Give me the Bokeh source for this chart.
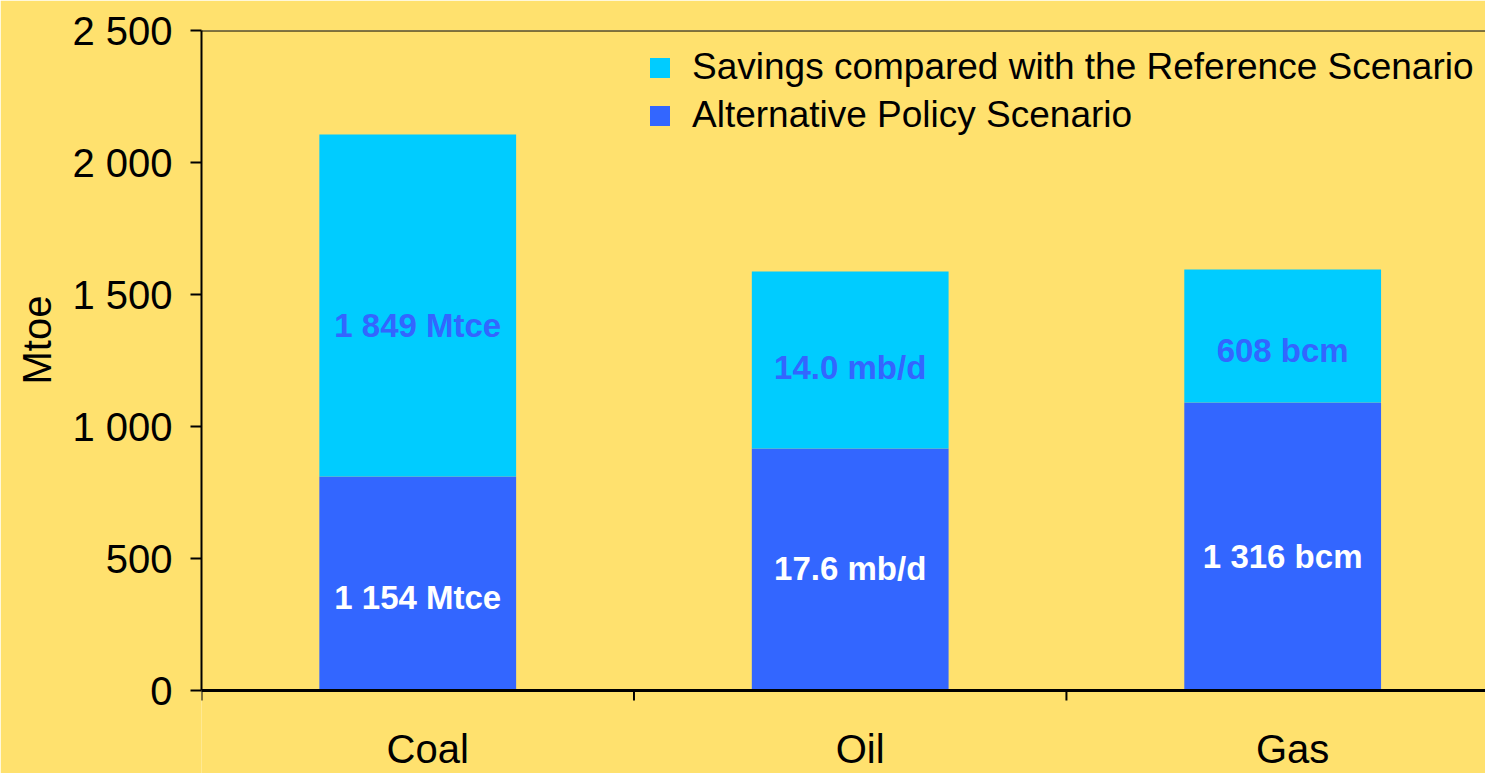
import math
from bokeh.plotting import figure
from bokeh.models import (FixedTicker, Legend, LegendItem, Span, Range1d,
                          ColumnDataSource, Title)
from bokeh.core.properties import value
from bokeh.embed import file_html
from bokeh.resources import INLINE

# Demand by fuel in 2030, Mtoe
fuels = ["Coal", "Oil", "Gas"]
alt_policy = [811, 917, 1091]          # Alternative Policy Scenario
savings = [1295, 670, 504]             # savings vs. Reference Scenario
alt_labels = ["1 154 Mtce", "17.6 mb/d", "1 316 bcm"]
sav_labels = ["1 849 Mtce", "14.0 mb/d", "608 bcm"]
y_ticks = [0, 500, 1000, 1500, 2000, 2500]
y_tick_labels = ["0", "500", "1 000", "1 500", "2 000", "2 500"]

# Where the labels sit inside each segment (data units)
alt_label_y = [352, 462, 508]
sav_label_y = [1383, 1222, 1286]

BG = "#FFE16E"
CYAN = "#00CCFF"
BLUE = "#3366FF"
FONT = "Liberation Sans"

Y_MAX = 2500
TOP, BOTTOM, HEIGHT = 30, 690, 773          # frame top, zero line, canvas height
px_per_unit = (BOTTOM - TOP) / Y_MAX
y_start = -(HEIGHT - BOTTOM) / px_per_unit    # room under the zero line for names

xs = [i + 0.5 for i in range(len(fuels))]
bounds = list(range(len(fuels) + 1))
tops = [a + s for a, s in zip(alt_policy, savings)]

src = ColumnDataSource(dict(x=xs, fuel=fuels, alt=alt_policy, top=tops,
                            alt_lab=alt_labels, sav_lab=sav_labels,
                            alt_ly=alt_label_y, sav_ly=sav_label_y))

p = figure(width=1485, height=HEIGHT, output_backend="svg", toolbar_location=None,
           x_range=Range1d(0, 2.969), y_range=Range1d(y_start, Y_MAX),
           min_border_left=201, min_border_right=0, min_border_top=TOP,
           min_border_bottom=0)
p.background_fill_color = BG
p.border_fill_color = BG
p.outline_line_color = None
p.grid.visible = False
p.xaxis.visible = False

alt_r = p.vbar(x="x", width=0.455, bottom=0, top="alt", source=src,
               fill_color=BLUE, line_color=None)
sav_r = p.vbar(x="x", width=0.455, bottom="alt", top="top", source=src,
               fill_color=CYAN, line_color=None)

p.text(x="x", y="alt_ly", text="alt_lab", source=src, text_color="white",
       text_font=value(FONT), text_font_style="bold", text_font_size="33px",
       text_align="center", text_baseline="middle")
p.text(x="x", y="sav_ly", text="sav_lab", source=src, text_color=BLUE,
       text_font=value(FONT), text_font_style="bold", text_font_size="33px",
       text_align="center", text_baseline="middle")

# zero line, top edge and category boundary ticks
p.add_layout(Span(location=0, dimension="width", line_color="black", line_width=3))
p.add_layout(Span(location=Y_MAX, dimension="width", line_color="black", line_width=2))
p.ray(x=bounds, y=0, length=10, length_units="screen", angle=-math.pi / 2,
      line_color="black", line_width=2)

# fuel names under the bars
p.text(x="x", y=0, text="fuel", source=src, x_offset=10, y_offset=36,
       text_align="center", text_baseline="top", text_font=value(FONT),
       text_font_size="40px", text_color="black")

# y axis
ya = p.yaxis[0]
ya.bounds = (0, Y_MAX)
ya.ticker = FixedTicker(ticks=y_ticks)
ya.major_label_overrides = {t: l for t, l in zip(y_ticks, y_tick_labels)}
ya.major_label_text_font = FONT
ya.major_label_text_font_size = "40px"
ya.major_label_text_color = "black"
ya.major_label_standoff = 18
ya.major_tick_in = 0
ya.major_tick_out = 11
ya.minor_tick_line_color = None
ya.axis_line_color = "black"
ya.axis_line_width = 2
ya.major_tick_line_width = 2

# unit title beside the y axis
p.add_layout(Title(text="Mtoe", align="left", offset=389, standoff=22,
                   text_font=FONT, text_font_size="40px",
                   text_font_style="normal", text_color="black"), "left")

legend = Legend(items=[
    LegendItem(label="Savings compared with the Reference Scenario", renderers=[sav_r]),
    LegendItem(label="Alternative Policy Scenario", renderers=[alt_r]),
], location=(446, 554 + (HEIGHT - BOTTOM)))
legend.background_fill_alpha = 0
legend.border_line_color = None
legend.padding = 0
legend.margin = 0
legend.spacing = 6
legend.glyph_width = 25
legend.glyph_height = 25
legend.label_height = 40
legend.label_standoff = 20
legend.label_text_font = FONT
legend.label_text_font_size = "37px"
legend.label_text_color = "black"
p.add_layout(legend)

open("out.html", "w").write(file_html(p, INLINE))
